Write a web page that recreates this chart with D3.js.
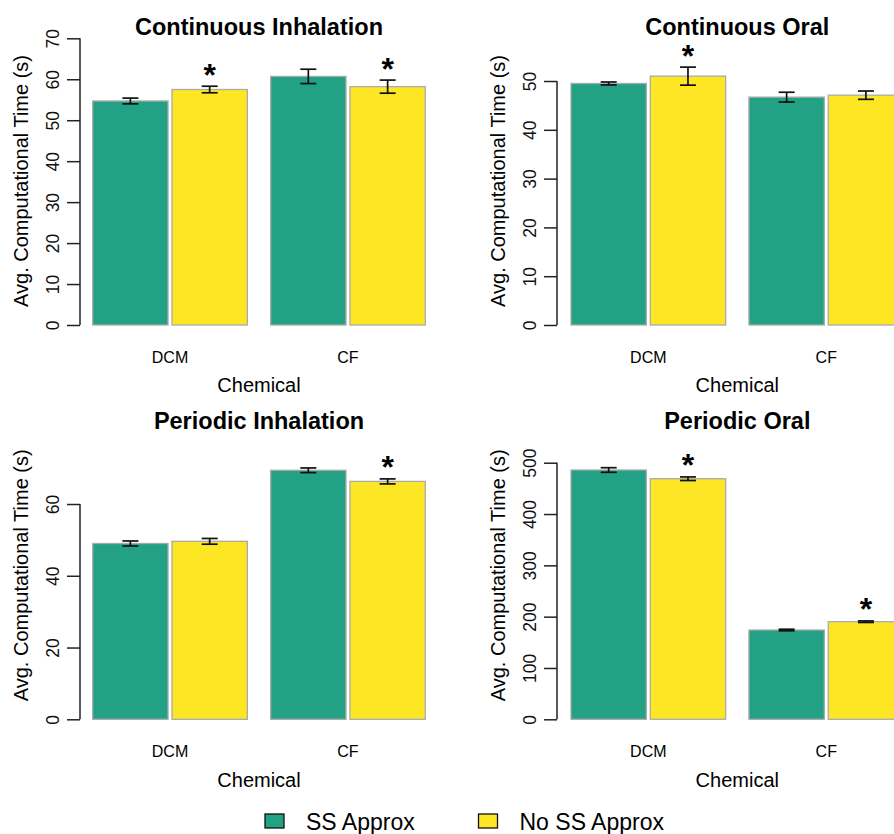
<!DOCTYPE html>
<html>
<head>
<meta charset="utf-8">
<script src="https://cdn.jsdelivr.net/npm/d3@7"></script>
<style>
  html, body { margin: 0; padding: 0; background: #fff; }
  svg { display: block; font-family: "Liberation Sans", Arial, sans-serif; }
</style>
</head>
<body>
<svg id="chart" width="894" height="834"></svg>
<script>
// ---------------- data ----------------
const chemicals = ["DCM", "CF"];
const seriesNames = ["SS Approx", "No SS Approx"];
const seriesColors = ["#22A184", "#FDE725"];
const panelTitles = ["Continuous Inhalation", "Continuous Oral", "Periodic Inhalation", "Periodic Oral"];

// mean computational time (s) per panel, [DCM, CF]
const ssMeans   = [[54.7, 60.7], [49.5, 46.7], [49.0, 69.4], [485.8, 174.0]];
const noSsMeans = [[57.5, 58.2], [51.0, 47.1], [49.6, 66.3], [468.8, 190.2]];
// error bar half-widths
const ssErr   = [[0.7, 1.75], [0.3, 1.0], [0.7, 0.65], [4.5, 1.5]];
const noSsErr = [[0.8, 1.6], [1.85, 0.85], [0.8, 0.7], [3.5, 1.5]];
// significance markers (on No SS Approx bars)
const ssStar   = [[0, 0], [0, 0], [0, 0], [0, 0]];
const noSsStar = [[1, 1], [1, 0], [0, 1], [1, 1]];
// y axis ticks and upper limits
const yTicks = [
  [0, 10, 20, 30, 40, 50, 60, 70],
  [0, 10, 20, 30, 40, 50],
  [0, 20, 40, 60],
  [0, 100, 200, 300, 400, 500]
];
const yLimits = [72.76, 61.07, 83.05, 580.7];
const xTitle = "Chemical";
const yTitle = "Avg. Computational Time (s)";

// ---------------- layout ----------------
const svg = d3.select("#chart");
const colAxisX = [80, 557];
const colBarX0 = [92.7, 571];
const barSpan = 332.6;
const rowBase = [325, 719.3];
const plotH = 298;
const rowTitleY = [35, 429.3];

panelTitles.forEach((title, p) => {
  const col = p % 2, row = Math.floor(p / 2);
  const axisX = colAxisX[col];
  const x0 = colBarX0[col], x1 = x0 + barSpan;
  const base = rowBase[row];

  const y = d3.scaleLinear().domain([0, yLimits[p]]).range([base, base - plotH]);
  const xGroup = d3.scaleBand().domain(chemicals).range([x0, x1]).paddingInner(0.131).paddingOuter(0);
  const xInner = d3.scaleBand().domain(seriesNames).range([0, xGroup.bandwidth()]).paddingInner(0.05).paddingOuter(0);

  const g = svg.append("g");

  // title
  g.append("text")
    .attr("x", (x0 + x1) / 2).attr("y", rowTitleY[row])
    .attr("text-anchor", "middle")
    .style("font-weight", "bold").style("font-size", "23.5px")
    .text(title);

  // bars
  const rows = [];
  chemicals.forEach((c, ci) => {
    rows.push({ c, s: seriesNames[0], v: ssMeans[p][ci], e: ssErr[p][ci], star: ssStar[p][ci], color: seriesColors[0] });
    rows.push({ c, s: seriesNames[1], v: noSsMeans[p][ci], e: noSsErr[p][ci], star: noSsStar[p][ci], color: seriesColors[1] });
  });

  g.selectAll("rect.bar").data(rows).enter().append("rect")
    .attr("class", "bar")
    .attr("x", d => xGroup(d.c) + xInner(d.s))
    .attr("width", xInner.bandwidth())
    .attr("y", d => y(d.v))
    .attr("height", d => y(0) - y(d.v))
    .attr("fill", d => d.color)
    .attr("stroke", "#ababab")
    .attr("stroke-width", 1.3);

  // error bars
  const cap = 8;
  const eb = g.selectAll("g.err").data(rows).enter().append("g").attr("class", "err")
    .attr("stroke", "#111").attr("stroke-width", 1.7).attr("fill", "none");
  const cx = d => xGroup(d.c) + xInner(d.s) + xInner.bandwidth() / 2;
  eb.append("line").attr("x1", cx).attr("x2", cx).attr("y1", d => y(d.v + d.e)).attr("y2", d => y(d.v - d.e));
  eb.append("line").attr("x1", d => cx(d) - cap).attr("x2", d => cx(d) + cap).attr("y1", d => y(d.v + d.e)).attr("y2", d => y(d.v + d.e));
  eb.append("line").attr("x1", d => cx(d) - cap).attr("x2", d => cx(d) + cap).attr("y1", d => y(d.v - d.e)).attr("y2", d => y(d.v - d.e));

  // significance stars (glyph centre ~18px above error bar top)
  g.selectAll("text.star").data(rows.filter(d => d.star)).enter().append("text")
    .attr("class", "star")
    .attr("x", cx)
    .attr("y", d => y(d.v + d.e) - 18 + 17.5)
    .attr("text-anchor", "middle")
    .style("font-weight", "bold").style("font-size", "32px")
    .text("*");

  // y axis
  const axis = d3.axisLeft(y).tickValues(yTicks[p]).tickSize(13).tickSizeOuter(0).tickFormat(d3.format("d"));
  const ag = g.append("g").attr("transform", `translate(${axisX},0)`).call(axis);
  ag.select(".domain").remove();
  ag.selectAll(".tick line").attr("stroke", "#222").attr("stroke-width", 1.5);
  ag.append("line")
    .attr("x1", 0).attr("x2", 0)
    .attr("y1", y(yTicks[p][0])).attr("y2", y(yTicks[p][yTicks[p].length - 1]))
    .attr("stroke", "#222").attr("stroke-width", 1.5);
  ag.selectAll(".tick text")
    .attr("x", 0).attr("dy", 0)
    .attr("transform", "translate(-21.2,0) rotate(-90)")
    .attr("text-anchor", "middle")
    .attr("fill", "#111")
    .style("font-size", "17.5px")
    .style("font-family", "'Liberation Sans', Arial, sans-serif");

  // x category labels
  g.selectAll("text.cat").data(chemicals).enter().append("text")
    .attr("class", "cat")
    .attr("x", c => xGroup(c) + xGroup.bandwidth() / 2)
    .attr("y", base + 37.7)
    .attr("text-anchor", "middle")
    .style("font-size", "16px")
    .text(c => c);

  // x title
  g.append("text")
    .attr("x", (x0 + x1) / 2).attr("y", base + 67.3)
    .attr("text-anchor", "middle")
    .style("font-size", "20px")
    .text(xTitle);

  // y title
  g.append("text")
    .attr("transform", `translate(${axisX - 52.5},${base - 144}) rotate(-90)`)
    .attr("text-anchor", "middle")
    .style("font-size", "20px")
    .text(yTitle);
});

// ---------------- legend ----------------
const legendX = [265, 478.5];
const lg = svg.append("g");
seriesNames.forEach((name, i) => {
  lg.append("rect")
    .attr("x", legendX[i]).attr("y", 814)
    .attr("width", 19).attr("height", 14)
    .attr("fill", seriesColors[i]).attr("stroke", "#111").attr("stroke-width", 1.3);
  lg.append("text")
    .attr("x", legendX[i] + 41).attr("y", 829.5)
    .style("font-size", "23px")
    .text(name);
});
</script>
</body>
</html>
